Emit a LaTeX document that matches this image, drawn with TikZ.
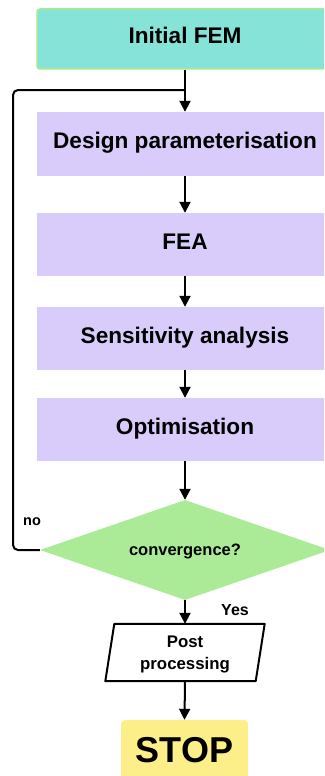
\documentclass[tikz,border=0pt]{standalone}
\usepackage{fontspec}
\setmainfont{Liberation Sans}
\usetikzlibrary{shapes.geometric,arrows.meta}
\definecolor{teal1}{HTML}{86E3D8}
\definecolor{tealb}{HTML}{A8E890}
\definecolor{lav}{HTML}{D9CCFB}
\definecolor{grn}{HTML}{ABEB97}
\definecolor{yel}{HTML}{FCEF8A}
\begin{document}
\begin{tikzpicture}[x=1pt,y=-1pt,
  stepbox/.style={rectangle,fill=lav,minimum width=296pt,minimum height=63pt,inner sep=0pt,text height=0.95em,text depth=0pt,font=\fontsize{22.6}{26}\selectfont\bfseries},
  conn/.style={line width=2pt,-{Triangle[width=11pt,length=11pt]}},
  plain/.style={line width=2pt}]
\useasboundingbox (0,0) rectangle (324,776);
\clip (0,0) rectangle (324,776);
\node[rectangle,rounded corners=3pt,fill=teal1,draw=tealb,line width=1.5pt,minimum width=296pt,minimum height=60pt,inner sep=0pt,text height=0.9em,text depth=0pt,font=\fontsize{22.6}{26}\selectfont\bfseries] (init) at (185,39) {Initial FEM};
\node[stepbox,minimum height=64pt] (design) at (185,144) {Design parameterisation};
\node[stepbox] (fea) at (185,244.5) {FEA};
\node[stepbox] (sens) at (185,338.5) {Sensitivity analysis};
\node[stepbox] (opt) at (185,429.5) {Optimisation};
\node[diamond,fill=grn,minimum width=290pt,minimum height=100pt,shape aspect=2.9,inner sep=0pt] (conv) at (185,550) {};
\node[font=\fontsize{16.5}{19}\selectfont\bfseries] (convtxt) at (185,551) {convergence?};
\node[rectangle,minimum width=150pt,minimum height=57pt,inner sep=0pt] (post) at (185,652.5) {};
\node[align=center,font=\fontsize{16.8}{22}\selectfont\bfseries] (posttxt) at (185,654.5) {Post\\processing};
\draw[plain,line join=round] ([xshift=-4.5pt]post.south west) -- ([xshift=4.5pt]post.north west) -- ([xshift=4.5pt]post.north east) -- ([xshift=-4.5pt]post.south east) -- cycle;
\node[rectangle,rounded corners=4pt,fill=yel,minimum width=127pt,minimum height=70pt,inner sep=0pt] (stop) at (184.5,755) {};
\node[font=\fontsize{36}{40}\selectfont\bfseries] (stoptxt) at (184.5,750) {STOP};
\coordinate (j) at (185,90);
\coordinate (lx) at (13,0);
\draw[conn] (init.south) -- (design.north);
\draw[conn] (design.south) -- (fea.north);
\draw[conn] (fea.south) -- (sens.north);
\draw[conn] (sens.south) -- (opt.north);
\draw[conn] (opt.south) -- (conv.north);
\draw[conn] (conv.south) -- (post.north);
\draw[conn] (post.south) -- (stop.north);
\draw[plain,rounded corners=5pt] (conv.west) -- (conv.west -| lx) |- (j);
\node[font=\fontsize{14.5}{16}\selectfont\bfseries] (no) at (32,522) {no};
\node[font=\fontsize{16}{18}\selectfont\bfseries] (yes) at (235,610) {Yes};
\end{tikzpicture}
\end{document}
